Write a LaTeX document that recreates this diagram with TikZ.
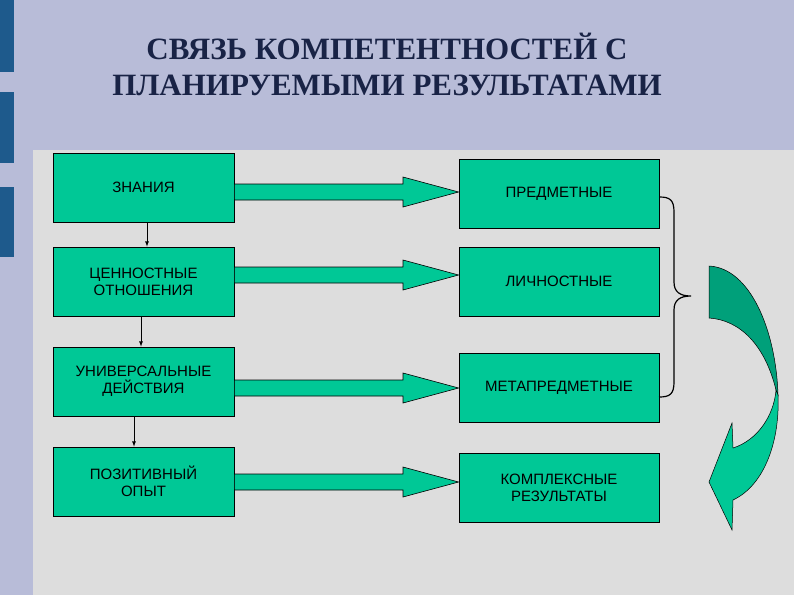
\documentclass[tikz,border=0pt]{standalone}
\usepackage{fontspec}
\setmainfont{Liberation Sans}
\newfontfamily\titlefont{Liberation Serif}
\definecolor{bg}{RGB}{184,188,216}
\definecolor{panel}{RGB}{221,221,221}
\definecolor{bar}{RGB}{30,90,140}
\definecolor{gr}{RGB}{0,200,150}
\definecolor{dgr}{RGB}{0,160,122}
\definecolor{navy}{RGB}{25,35,70}
\begin{document}
\begin{tikzpicture}[x=1pt,y=-1pt,
  box/.style={draw=black,fill=gr,line width=0.8pt,font=\fontsize{15}{17}\selectfont,align=center,inner sep=0pt},
  fat/.style={draw=black,fill=gr,line width=0.6pt},
  small/.style={-latex,line width=0.8pt}]
\useasboundingbox (0,0) rectangle (794,595);
\fill[bg] (0,0) rectangle (794,595);
\fill[panel] (33,150) rectangle (794,595);
\fill[bar] (0,0) rectangle (14,72);
\fill[bar] (0,92) rectangle (14,163);
\fill[bar] (0,187) rectangle (14,257);
\node[font=\titlefont\bfseries\fontsize{31}{36}\selectfont,text=navy,align=center] (title) at (387,64) {СВЯЗЬ КОМПЕТЕНТНОСТЕЙ С\\ПЛАНИРУЕМЫМИ РЕЗУЛЬТАТАМИ};
% left boxes
\node[box,minimum width=181,minimum height=69] (l1) at (143.5,187.5) {ЗНАНИЯ};
\node[box,minimum width=181,minimum height=69] (l2) at (143.5,281.5) {ЦЕННОСТНЫЕ\\ОТНОШЕНИЯ};
\node[box,minimum width=181,minimum height=69] (l3) at (143.5,381.5) {УНИВЕРСАЛЬНЫЕ\\ДЕЙСТВИЯ};
\node[box,minimum width=181,minimum height=69] (l4) at (143.5,481.5) {ПОЗИТИВНЫЙ\\ОПЫТ};
% right boxes
\node[box,minimum width=200,minimum height=69] (r1) at (559,193.5) {ПРЕДМЕТНЫЕ};
\node[box,minimum width=200,minimum height=69] (r2) at (559,281.5) {ЛИЧНОСТНЫЕ};
\node[box,minimum width=200,minimum height=69] (r3) at (559,387.5) {МЕТАПРЕДМЕТНЫЕ};
\node[box,minimum width=200,minimum height=69] (r4) at (559,487.5) {КОМПЛЕКСНЫЕ\\РЕЗУЛЬТАТЫ};
% small arrows
\draw[small] (l1.south -| 147,0) -- (l2.north -| 147,0);
\draw[small] (l2.south -| 141,0) -- (l3.north -| 141,0);
\draw[small] (l3.south -| 134,0) -- (l4.north -| 134,0);
% fat arrows
\foreach \a/\b/\y in {l1/r1/192, l2/r2/275, l3/r3/388, l4/r4/482}{
  \draw[fat] (l1.east |- 0,\y) ++(0,-8) -- (403,\y-8) -- (403,\y-15) -- (r1.west |- 0,\y) -- (403,\y+15) -- (403,\y+8) -- (l1.east |- 0,\y+8) -- cycle;
}
% brace
\draw[line width=1.2pt] (r1.east |- 0,197) .. controls (670,197) and (674,200) .. (674,212) -- (674,282) .. controls (674,292) and (680,296) .. (691,296)
  .. controls (680,296) and (674,300) .. (674,310) -- (674,382) .. controls (674,394) and (670,397) .. (659,397);
% curved arrow
\draw[fill=dgr,line width=0.5pt] (709,266) .. controls (750,268) and (776,330) .. (778,395)
  -- (776,390) .. controls (765,345) and (740,320) .. (709,318) -- cycle;
\draw[fill=gr,line width=0.5pt] (776,390) .. controls (774,415) and (758,440) .. (733,448)
  -- (732,423) -- (709,482) -- (732,530) -- (733,500) .. controls (765,485) and (780,440) .. (778,395) -- cycle;
\end{tikzpicture}
\end{document}
